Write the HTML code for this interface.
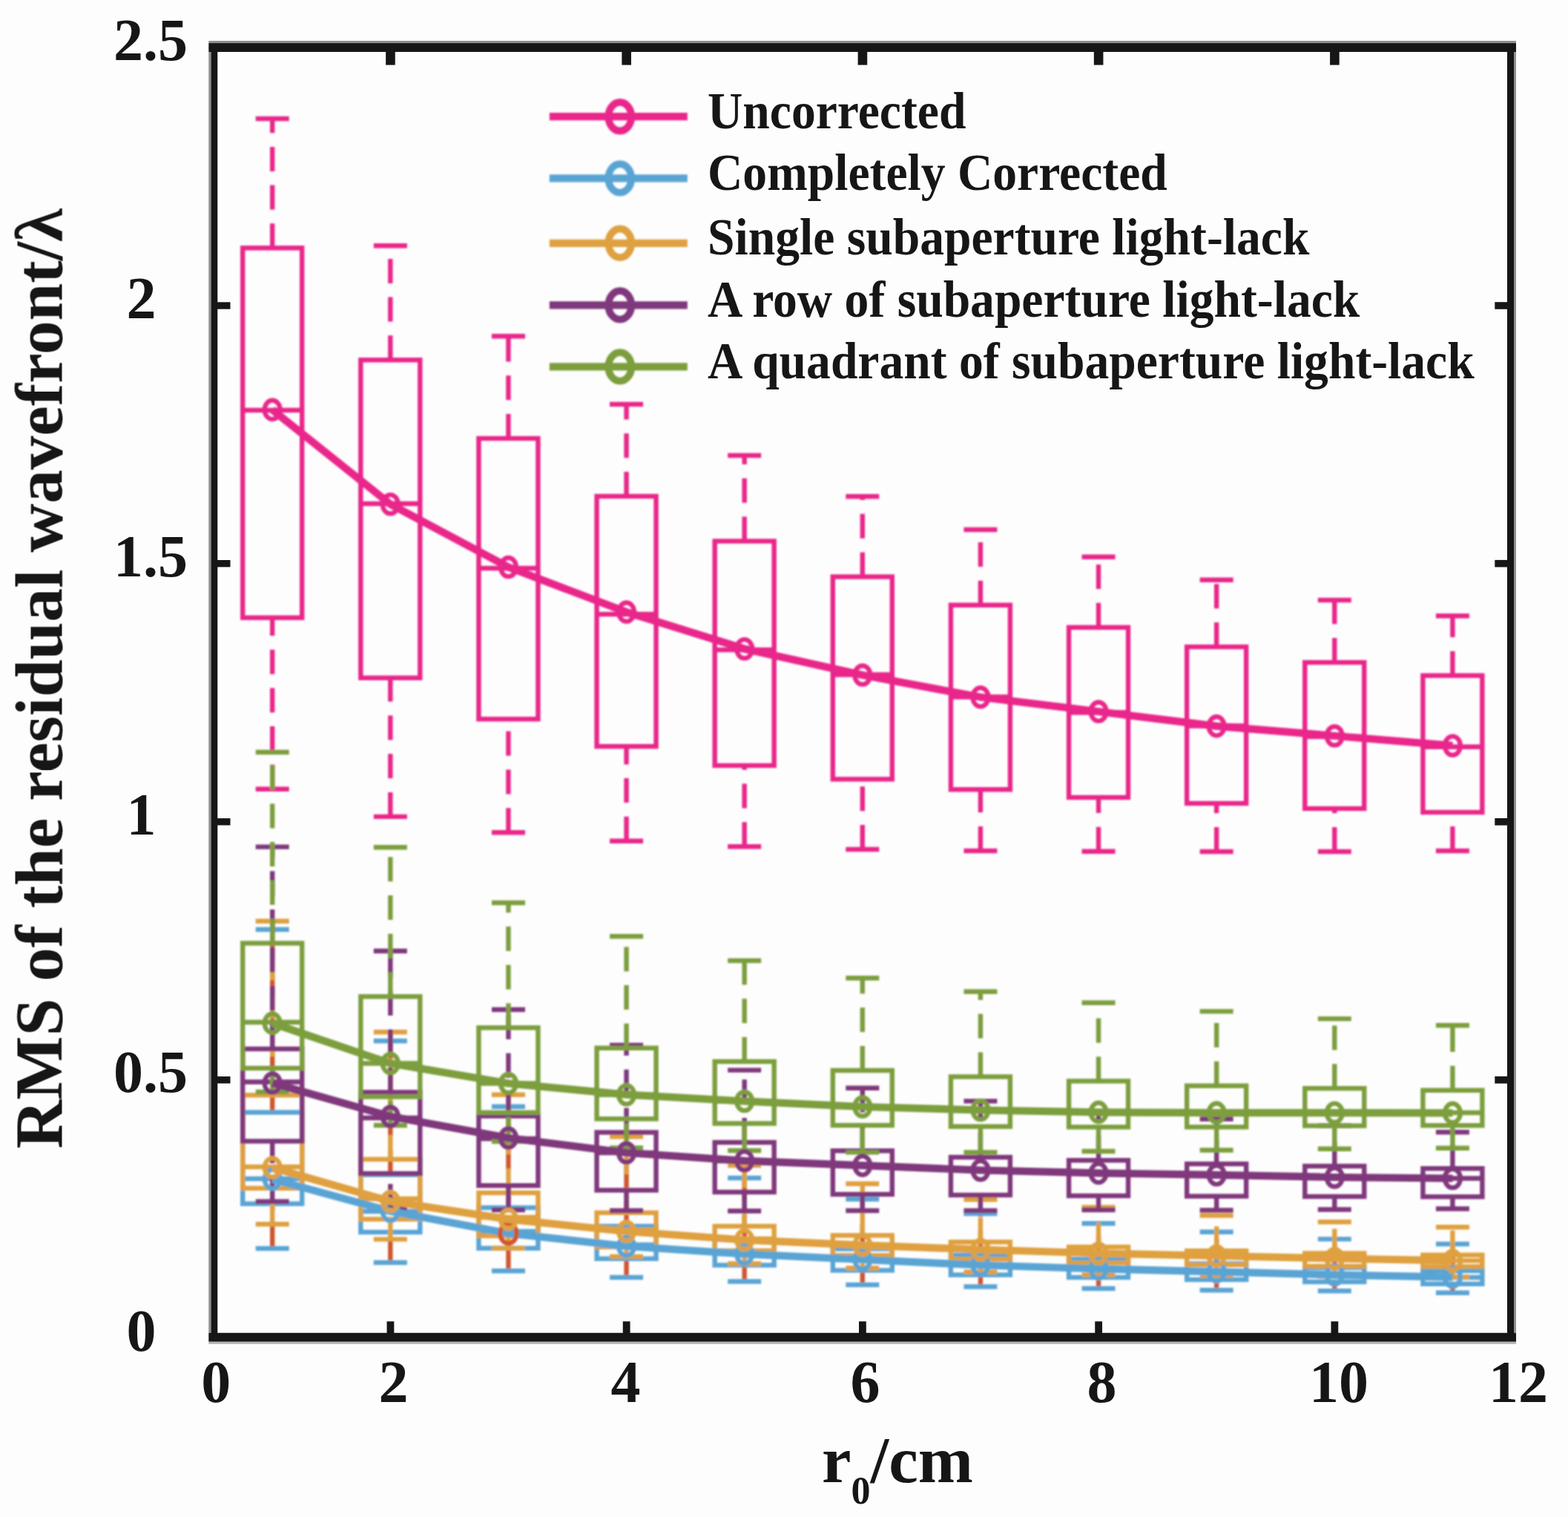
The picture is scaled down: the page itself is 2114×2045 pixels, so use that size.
<!DOCTYPE html>
<html lang="en"><head><meta charset="utf-8"><title>RMS of the residual wavefront vs r0</title>
<style>html,body{margin:0;padding:0;background:#fdfdfd}body{width:2114px;height:2045px;overflow:hidden}svg{display:block}text{font-family:"Liberation Serif","DejaVu Serif",serif;font-weight:bold;fill:#171717}</style></head><body>
<svg width="2114" height="2045" viewBox="0 0 2114 2045">
<rect width="2114" height="2045" fill="#fdfdfd"/>
<defs><filter id="soft" filterUnits="userSpaceOnUse" x="0" y="0" width="2114" height="2045"><feGaussianBlur stdDeviation="1.15"/></filter><filter id="softText" filterUnits="userSpaceOnUse" x="0" y="0" width="2114" height="2045"><feGaussianBlur stdDeviation="0.7"/></filter><filter id="softAxis" filterUnits="userSpaceOnUse" x="0" y="0" width="2114" height="2045"><feGaussianBlur stdDeviation="0.45"/></filter></defs>
<g filter="url(#soft)">
<g fill="none" stroke="#e9258a" stroke-width="6.4">
<g stroke="#e9258a" stroke-dasharray="33 18.7">
<path d="M367.2 334.3V160M367.2 1063.8V832.7"/>
<path d="M526.32 485.3V331.2M526.32 1100.9V913.8"/>
<path d="M685.44 591V453.3M685.44 1122.2V969.4"/>
<path d="M844.56 669V545M844.56 1133.8V1006.2"/>
<path d="M1003.68 729.5V614M1003.68 1141.2V1032"/>
<path d="M1162.8 777.5V669.2M1162.8 1145V1050.4"/>
<path d="M1321.92 815.7V714M1321.92 1147V1064.3"/>
<path d="M1481.04 845.8V750.7M1481.04 1147.8V1075"/>
<path d="M1640.16 872V781.7M1640.16 1148V1083"/>
<path d="M1799.28 893V809M1799.28 1148V1090"/>
<path d="M1958.4 910.7V830.3M1958.4 1147V1095"/>
</g>
<rect x="327.2" y="334.3" width="80" height="498.4"/>
<path d="M327.2 553H407.2M344.7 160H389.7M344.7 1063.8H389.7"/>
<rect x="486.32" y="485.3" width="80" height="428.5"/>
<path d="M486.32 679H566.32M503.82 331.2H548.82M503.82 1100.9H548.82"/>
<rect x="645.44" y="591" width="80" height="378.4"/>
<path d="M645.44 766H725.44M662.94 453.3H707.94M662.94 1122.2H707.94"/>
<rect x="804.56" y="669" width="80" height="337.2"/>
<path d="M804.56 828H884.56M822.06 545H867.06M822.06 1133.8H867.06"/>
<rect x="963.68" y="729.5" width="80" height="302.5"/>
<path d="M963.68 876H1043.68M981.18 614H1026.18M981.18 1141.2H1026.18"/>
<rect x="1122.8" y="777.5" width="80" height="272.9"/>
<path d="M1122.8 909.5H1202.8M1140.3 669.2H1185.3M1140.3 1145H1185.3"/>
<rect x="1281.92" y="815.7" width="80" height="248.6"/>
<path d="M1281.92 939.5H1361.92M1299.42 714H1344.42M1299.42 1147H1344.42"/>
<rect x="1441.04" y="845.8" width="80" height="229.2"/>
<path d="M1441.04 960.5H1521.04M1458.54 750.7H1503.54M1458.54 1147.8H1503.54"/>
<rect x="1600.16" y="872" width="80" height="211"/>
<path d="M1600.16 978.5H1680.16M1617.66 781.7H1662.66M1617.66 1148H1662.66"/>
<rect x="1759.28" y="893" width="80" height="197"/>
<path d="M1759.28 993H1839.28M1776.78 809H1821.78M1776.78 1148H1821.78"/>
<rect x="1918.4" y="910.7" width="80" height="184.3"/>
<path d="M1918.4 1006.8H1998.4M1935.9 830.3H1980.9M1935.9 1147H1980.9"/>
</g>
<g fill="none" stroke="#5aa4d4" stroke-width="6.4">
<g stroke="#d0572e" stroke-dasharray="33 18.7">
<path d="M367.2 1499.5V1253M367.2 1683V1622.7"/>
<path d="M526.32 1583.6V1403.3M526.32 1702V1661"/>
<path d="M685.44 1628V1491.7M685.44 1713.2V1682.7"/>
<path d="M844.56 1653V1548M844.56 1722V1696.8"/>
<path d="M1003.68 1671V1588M1003.68 1727.5V1705.5"/>
<path d="M1162.8 1683.5V1616.5M1162.8 1732V1712.5"/>
<path d="M1321.92 1692V1636M1321.92 1734.5V1718.6"/>
<path d="M1481.04 1697.5V1649.3M1481.04 1737V1722"/>
<path d="M1640.16 1703.5V1660.8M1640.16 1739.2V1725"/>
<path d="M1799.28 1709V1670.4M1799.28 1740.3V1728"/>
<path d="M1958.4 1713V1677M1958.4 1742.8V1730.8"/>
</g>
<rect x="327.2" y="1499.5" width="80" height="123.2"/>
<path d="M327.2 1589H407.2M344.7 1253H389.7M344.7 1683H389.7"/>
<rect x="486.32" y="1583.6" width="80" height="77.4"/>
<path d="M486.32 1633H566.32M503.82 1403.3H548.82M503.82 1702H548.82"/>
<rect x="645.44" y="1628" width="80" height="54.7"/>
<path d="M645.44 1660H725.44M662.94 1491.7H707.94M662.94 1713.2H707.94"/>
<rect x="804.56" y="1653" width="80" height="43.8"/>
<path d="M804.56 1678H884.56M822.06 1548H867.06M822.06 1722H867.06"/>
<rect x="963.68" y="1671" width="80" height="34.5"/>
<path d="M963.68 1690H1043.68M981.18 1588H1026.18M981.18 1727.5H1026.18"/>
<rect x="1122.8" y="1683.5" width="80" height="29"/>
<path d="M1122.8 1698H1202.8M1140.3 1616.5H1185.3M1140.3 1732H1185.3"/>
<rect x="1281.92" y="1692" width="80" height="26.6"/>
<path d="M1281.92 1705H1361.92M1299.42 1636H1344.42M1299.42 1734.5H1344.42"/>
<rect x="1441.04" y="1697.5" width="80" height="24.5"/>
<path d="M1441.04 1710.5H1521.04M1458.54 1649.3H1503.54M1458.54 1737H1503.54"/>
<rect x="1600.16" y="1703.5" width="80" height="21.5"/>
<path d="M1600.16 1714.4H1680.16M1617.66 1660.8H1662.66M1617.66 1739.2H1662.66"/>
<rect x="1759.28" y="1709" width="80" height="19"/>
<path d="M1759.28 1718.6H1839.28M1776.78 1670.4H1821.78M1776.78 1740.3H1821.78"/>
<rect x="1918.4" y="1713" width="80" height="17.8"/>
<path d="M1918.4 1722H1998.4M1935.9 1677H1980.9M1935.9 1742.8H1980.9"/>
</g>
<g fill="none" stroke="#dfa040" stroke-width="6.4">
<g stroke="#dfa040" stroke-dasharray="33 18.7">
<path d="M367.2 1476.3V1241.8M367.2 1650.2V1601.8"/>
<path d="M526.32 1562.8V1391.2M526.32 1670.6V1643.5"/>
<path d="M685.44 1608V1475.8M685.44 1682.6V1666"/>
<path d="M844.56 1634.8V1532.2M844.56 1694V1681"/>
<path d="M1003.68 1653V1571M1003.68 1703.5V1686"/>
<path d="M1162.8 1665.4V1595.8M1162.8 1709.5V1692.4"/>
<path d="M1321.92 1674.3V1617M1321.92 1714.8V1697.5"/>
<path d="M1481.04 1681V1627.5M1481.04 1718.5V1702.5"/>
<path d="M1640.16 1686.2V1638.5M1640.16 1719.6V1705"/>
<path d="M1799.28 1689.5V1647.2M1799.28 1720.6V1707"/>
<path d="M1958.4 1691.8V1654.2M1958.4 1721.5V1707.5"/>
</g>
<rect x="327.2" y="1476.3" width="80" height="125.5"/>
<path d="M327.2 1573H407.2M344.7 1241.8H389.7M344.7 1650.2H389.7"/>
<rect x="486.32" y="1562.8" width="80" height="80.7"/>
<path d="M486.32 1616H566.32M503.82 1391.2H548.82M503.82 1670.6H548.82"/>
<rect x="645.44" y="1608" width="80" height="58"/>
<path d="M645.44 1641H725.44M662.94 1475.8H707.94M662.94 1682.6H707.94"/>
<rect x="804.56" y="1634.8" width="80" height="46.2"/>
<path d="M804.56 1658H884.56M822.06 1532.2H867.06M822.06 1694H867.06"/>
<rect x="963.68" y="1653" width="80" height="33"/>
<path d="M963.68 1670H1043.68M981.18 1571H1026.18M981.18 1703.5H1026.18"/>
<rect x="1122.8" y="1665.4" width="80" height="27"/>
<path d="M1122.8 1678H1202.8M1140.3 1595.8H1185.3M1140.3 1709.5H1185.3"/>
<rect x="1281.92" y="1674.3" width="80" height="23.2"/>
<path d="M1281.92 1684.5H1361.92M1299.42 1617H1344.42M1299.42 1714.8H1344.42"/>
<rect x="1441.04" y="1681" width="80" height="21.5"/>
<path d="M1441.04 1689.5H1521.04M1458.54 1627.5H1503.54M1458.54 1718.5H1503.54"/>
<rect x="1600.16" y="1686.2" width="80" height="18.8"/>
<path d="M1600.16 1693H1680.16M1617.66 1638.5H1662.66M1617.66 1719.6H1662.66"/>
<rect x="1759.28" y="1689.5" width="80" height="17.5"/>
<path d="M1759.28 1696.5H1839.28M1776.78 1647.2H1821.78M1776.78 1720.6H1821.78"/>
<rect x="1918.4" y="1691.8" width="80" height="15.7"/>
<path d="M1918.4 1699.4H1998.4M1935.9 1654.2H1980.9M1935.9 1721.5H1980.9"/>
</g>
<g fill="none" stroke="#7f377c" stroke-width="6.4">
<g stroke="#7f377c" stroke-dasharray="33 18.7">
<path d="M367.2 1414V1141.6M367.2 1619.7V1538.4"/>
<path d="M526.32 1472.4V1282M526.32 1629V1582"/>
<path d="M685.44 1504.5V1361M685.44 1631V1598.2"/>
<path d="M844.56 1526.5V1409M844.56 1632V1604.5"/>
<path d="M1003.68 1540V1442.6M1003.68 1632.5V1607"/>
<path d="M1162.8 1551.3V1466.7M1162.8 1632V1610"/>
<path d="M1321.92 1560V1484.4M1321.92 1632V1611"/>
<path d="M1481.04 1564.2V1498.5M1481.04 1631V1612"/>
<path d="M1640.16 1569V1508.5M1640.16 1631.5V1612.6"/>
<path d="M1799.28 1572V1517.5M1799.28 1630.5V1613"/>
<path d="M1958.4 1575.2V1526.2M1958.4 1629.5V1613.3"/>
</g>
<rect x="327.2" y="1414" width="80" height="124.4"/>
<path d="M327.2 1458.5H407.2M344.7 1141.6H389.7M344.7 1619.7H389.7"/>
<rect x="486.32" y="1472.4" width="80" height="109.6"/>
<path d="M486.32 1507H566.32M503.82 1282H548.82M503.82 1629H548.82"/>
<rect x="645.44" y="1504.5" width="80" height="93.7"/>
<path d="M645.44 1535H725.44M662.94 1361H707.94M662.94 1631H707.94"/>
<rect x="804.56" y="1526.5" width="80" height="78"/>
<path d="M804.56 1554H884.56M822.06 1409H867.06M822.06 1632H867.06"/>
<rect x="963.68" y="1540" width="80" height="67"/>
<path d="M963.68 1565H1043.68M981.18 1442.6H1026.18M981.18 1632.5H1026.18"/>
<rect x="1122.8" y="1551.3" width="80" height="58.7"/>
<path d="M1122.8 1571H1202.8M1140.3 1466.7H1185.3M1140.3 1632H1185.3"/>
<rect x="1281.92" y="1560" width="80" height="51"/>
<path d="M1281.92 1577.5H1361.92M1299.42 1484.4H1344.42M1299.42 1632H1344.42"/>
<rect x="1441.04" y="1564.2" width="80" height="47.8"/>
<path d="M1441.04 1581.4H1521.04M1458.54 1498.5H1503.54M1458.54 1631H1503.54"/>
<rect x="1600.16" y="1569" width="80" height="43.6"/>
<path d="M1600.16 1584H1680.16M1617.66 1508.5H1662.66M1617.66 1631.5H1662.66"/>
<rect x="1759.28" y="1572" width="80" height="41"/>
<path d="M1759.28 1587H1839.28M1776.78 1517.5H1821.78M1776.78 1630.5H1821.78"/>
<rect x="1918.4" y="1575.2" width="80" height="38.1"/>
<path d="M1918.4 1588.5H1998.4M1935.9 1526.2H1980.9M1935.9 1629.5H1980.9"/>
</g>
<g fill="none" stroke="#7b9e3d" stroke-width="6.4">
<g stroke="#7b9e3d" stroke-dasharray="33 18.7">
<path d="M367.2 1271.5V1014M367.2 1472V1440"/>
<path d="M526.32 1343.4V1142.3M526.32 1517V1478.5"/>
<path d="M685.44 1385.4V1217M685.44 1538.8V1499.8"/>
<path d="M844.56 1412.8V1262.3M844.56 1547.4V1508.3"/>
<path d="M1003.68 1431V1295M1003.68 1551V1514.5"/>
<path d="M1162.8 1443V1318.5M1162.8 1553.4V1517"/>
<path d="M1321.92 1451.5V1336.8M1321.92 1553.4V1518.6"/>
<path d="M1481.04 1457.4V1351.8M1481.04 1552V1519.3"/>
<path d="M1640.16 1463.7V1363.4M1640.16 1550.5V1519.3"/>
<path d="M1799.28 1467.2V1373.4M1799.28 1548.7V1517.6"/>
<path d="M1958.4 1469.8V1382.3M1958.4 1547.7V1517.2"/>
</g>
<rect x="327.2" y="1271.5" width="80" height="168.5"/>
<path d="M327.2 1378H407.2M344.7 1014H389.7M344.7 1472H389.7"/>
<rect x="486.32" y="1343.4" width="80" height="135.1"/>
<path d="M486.32 1433.5H566.32M503.82 1142.3H548.82M503.82 1517H548.82"/>
<rect x="645.44" y="1385.4" width="80" height="114.4"/>
<path d="M645.44 1460.5H725.44M662.94 1217H707.94M662.94 1538.8H707.94"/>
<rect x="804.56" y="1412.8" width="80" height="95.5"/>
<path d="M804.56 1475.8H884.56M822.06 1262.3H867.06M822.06 1547.4H867.06"/>
<rect x="963.68" y="1431" width="80" height="83.5"/>
<path d="M963.68 1484.5H1043.68M981.18 1295H1026.18M981.18 1551H1026.18"/>
<rect x="1122.8" y="1443" width="80" height="74"/>
<path d="M1122.8 1492H1202.8M1140.3 1318.5H1185.3M1140.3 1553.4H1185.3"/>
<rect x="1281.92" y="1451.5" width="80" height="67.1"/>
<path d="M1281.92 1496.5H1361.92M1299.42 1336.8H1344.42M1299.42 1553.4H1344.42"/>
<rect x="1441.04" y="1457.4" width="80" height="61.9"/>
<path d="M1441.04 1499.4H1521.04M1458.54 1351.8H1503.54M1458.54 1552H1503.54"/>
<rect x="1600.16" y="1463.7" width="80" height="55.6"/>
<path d="M1600.16 1500.1H1680.16M1617.66 1363.4H1662.66M1617.66 1550.5H1662.66"/>
<rect x="1759.28" y="1467.2" width="80" height="50.4"/>
<path d="M1759.28 1500.2H1839.28M1776.78 1373.4H1821.78M1776.78 1548.7H1821.78"/>
<rect x="1918.4" y="1469.8" width="80" height="47.4"/>
<path d="M1918.4 1500H1998.4M1935.9 1382.3H1980.9M1935.9 1547.7H1980.9"/>
</g>
<g fill="none" stroke="#e9258a">
<polyline points="367.2,552.4 526.32,679.7 685.44,764.5 844.56,825.1 1003.68,874.7 1162.8,910 1321.92,939.8 1481.04,959.3 1640.16,978.9 1799.28,992 1958.4,1005.2" stroke-width="10.2" stroke-linejoin="round"/>
<ellipse cx="367.2" cy="552.4" rx="10.5" ry="12.7" stroke-width="6.2"/>
<ellipse cx="526.32" cy="679.7" rx="10.5" ry="12.7" stroke-width="6.2"/>
<ellipse cx="685.44" cy="764.5" rx="10.5" ry="12.7" stroke-width="6.2"/>
<ellipse cx="844.56" cy="825.1" rx="10.5" ry="12.7" stroke-width="6.2"/>
<ellipse cx="1003.68" cy="874.7" rx="10.5" ry="12.7" stroke-width="6.2"/>
<ellipse cx="1162.8" cy="910" rx="10.5" ry="12.7" stroke-width="6.2"/>
<ellipse cx="1321.92" cy="939.8" rx="10.5" ry="12.7" stroke-width="6.2"/>
<ellipse cx="1481.04" cy="959.3" rx="10.5" ry="12.7" stroke-width="6.2"/>
<ellipse cx="1640.16" cy="978.9" rx="10.5" ry="12.7" stroke-width="6.2"/>
<ellipse cx="1799.28" cy="992" rx="10.5" ry="12.7" stroke-width="6.2"/>
<ellipse cx="1958.4" cy="1005.2" rx="10.5" ry="12.7" stroke-width="6.2"/>
</g>
<g fill="none" stroke="#5aa4d4">
<polyline points="367.2,1589.6 526.32,1632.8 685.44,1662.8 844.56,1680 1003.68,1690.5 1162.8,1698 1321.92,1705.5 1481.04,1710.5 1640.16,1714.4 1799.28,1718.6 1958.4,1721.6" stroke-width="10.2" stroke-linejoin="round"/>
<ellipse cx="367.2" cy="1589.6" rx="10.5" ry="12.7" stroke-width="6.2"/>
<ellipse cx="526.32" cy="1632.8" rx="10.5" ry="12.7" stroke-width="6.2"/>
<ellipse cx="685.44" cy="1662.8" rx="11.1" ry="13.3" stroke="#d0572e" stroke-width="6.2"/>
<ellipse cx="844.56" cy="1680" rx="10.5" ry="12.7" stroke-width="6.2"/>
<ellipse cx="1003.68" cy="1690.5" rx="10.5" ry="12.7" stroke-width="6.2"/>
<ellipse cx="1162.8" cy="1698" rx="10.5" ry="12.7" stroke-width="6.2"/>
<ellipse cx="1321.92" cy="1705.5" rx="10.5" ry="12.7" stroke-width="6.2"/>
<ellipse cx="1481.04" cy="1710.5" rx="10.5" ry="12.7" stroke-width="6.2"/>
<ellipse cx="1640.16" cy="1714.4" rx="10.5" ry="12.7" stroke-width="6.2"/>
<ellipse cx="1799.28" cy="1718.6" rx="10.5" ry="12.7" stroke-width="6.2"/>
<ellipse cx="1958.4" cy="1721.6" rx="10.5" ry="12.7" stroke-width="6.2"/>
</g>
<g fill="none" stroke="#dfa040">
<polyline points="367.2,1574 526.32,1619.5 685.44,1643.6 844.56,1660 1003.68,1671.5 1162.8,1678.6 1321.92,1684.5 1481.04,1689.5 1640.16,1693 1799.28,1696.5 1958.4,1699.4" stroke-width="10.2" stroke-linejoin="round"/>
<ellipse cx="367.2" cy="1574" rx="10.5" ry="12.7" stroke-width="6.2"/>
<ellipse cx="526.32" cy="1619.5" rx="10.5" ry="12.7" stroke-width="6.2"/>
<ellipse cx="685.44" cy="1643.6" rx="10.5" ry="12.7" stroke-width="6.2"/>
<ellipse cx="844.56" cy="1660" rx="10.5" ry="12.7" stroke-width="6.2"/>
<ellipse cx="1003.68" cy="1671.5" rx="10.5" ry="12.7" stroke-width="6.2"/>
<ellipse cx="1162.8" cy="1678.6" rx="10.5" ry="12.7" stroke-width="6.2"/>
<ellipse cx="1321.92" cy="1684.5" rx="10.5" ry="12.7" stroke-width="6.2"/>
<ellipse cx="1481.04" cy="1689.5" rx="10.5" ry="12.7" stroke-width="6.2"/>
<ellipse cx="1640.16" cy="1693" rx="10.5" ry="12.7" stroke-width="6.2"/>
<ellipse cx="1799.28" cy="1696.5" rx="10.5" ry="12.7" stroke-width="6.2"/>
<ellipse cx="1958.4" cy="1699.4" rx="10.5" ry="12.7" stroke-width="6.2"/>
</g>
<g fill="none" stroke="#7f377c">
<polyline points="367.2,1460 526.32,1505 685.44,1534 844.56,1554 1003.68,1564.8 1162.8,1571.1 1321.92,1577.5 1481.04,1581.4 1640.16,1583.8 1799.28,1587 1958.4,1588.5" stroke-width="10.2" stroke-linejoin="round"/>
<ellipse cx="367.2" cy="1460" rx="10.5" ry="12.7" stroke-width="6.2"/>
<ellipse cx="526.32" cy="1505" rx="10.5" ry="12.7" stroke-width="6.2"/>
<ellipse cx="685.44" cy="1534" rx="10.5" ry="12.7" stroke-width="6.2"/>
<ellipse cx="844.56" cy="1554" rx="10.5" ry="12.7" stroke-width="6.2"/>
<ellipse cx="1003.68" cy="1564.8" rx="10.5" ry="12.7" stroke-width="6.2"/>
<ellipse cx="1162.8" cy="1571.1" rx="10.5" ry="12.7" stroke-width="6.2"/>
<ellipse cx="1321.92" cy="1577.5" rx="10.5" ry="12.7" stroke-width="6.2"/>
<ellipse cx="1481.04" cy="1581.4" rx="10.5" ry="12.7" stroke-width="6.2"/>
<ellipse cx="1640.16" cy="1583.8" rx="10.5" ry="12.7" stroke-width="6.2"/>
<ellipse cx="1799.28" cy="1587" rx="10.5" ry="12.7" stroke-width="6.2"/>
<ellipse cx="1958.4" cy="1588.5" rx="10.5" ry="12.7" stroke-width="6.2"/>
</g>
<g fill="none" stroke="#7b9e3d">
<polyline points="367.2,1379.4 526.32,1433.5 685.44,1460.5 844.56,1475.7 1003.68,1484.5 1162.8,1492 1321.92,1496.5 1481.04,1499.4 1640.16,1500.1 1799.28,1500.2 1958.4,1500.4" stroke-width="10.2" stroke-linejoin="round"/>
<ellipse cx="367.2" cy="1379.4" rx="10.5" ry="12.7" stroke-width="6.2"/>
<ellipse cx="526.32" cy="1433.5" rx="10.5" ry="12.7" stroke-width="6.2"/>
<ellipse cx="685.44" cy="1460.5" rx="10.5" ry="12.7" stroke-width="6.2"/>
<ellipse cx="844.56" cy="1475.7" rx="10.5" ry="12.7" stroke-width="6.2"/>
<ellipse cx="1003.68" cy="1484.5" rx="10.5" ry="12.7" stroke-width="6.2"/>
<ellipse cx="1162.8" cy="1492" rx="10.5" ry="12.7" stroke-width="6.2"/>
<ellipse cx="1321.92" cy="1496.5" rx="10.5" ry="12.7" stroke-width="6.2"/>
<ellipse cx="1481.04" cy="1499.4" rx="10.5" ry="12.7" stroke-width="6.2"/>
<ellipse cx="1640.16" cy="1500.1" rx="10.5" ry="12.7" stroke-width="6.2"/>
<ellipse cx="1799.28" cy="1500.2" rx="10.5" ry="12.7" stroke-width="6.2"/>
<ellipse cx="1958.4" cy="1500.4" rx="10.5" ry="12.7" stroke-width="6.2"/>
</g>
</g>
<g fill="#171717" filter="url(#softAxis)">
<rect x="281.3" y="55" width="1762.7" height="3.1" fill="#909090"/>
<rect x="281.3" y="1808.6" width="1762.7" height="3.2" fill="#b4b4b4"/>
<rect x="281.3" y="70" width="3.2" height="1726.8" fill="#909090"/>
<rect x="2041" y="70" width="3" height="1726.8" fill="#909090"/>
<rect x="281.3" y="58.1" width="1762.7" height="11.9"/>
<rect x="281.3" y="1796.8" width="1762.7" height="11.8"/>
<rect x="284.5" y="69" width="8.8" height="1728.8"/>
<rect x="2032" y="69" width="9" height="1728.8"/>
<rect x="520.12" y="69" width="12.6" height="18.6"/>
<rect x="521.52" y="1781.3" width="9.8" height="16.5"/>
<rect x="838.36" y="69" width="12.6" height="18.6"/>
<rect x="839.76" y="1781.3" width="9.8" height="16.5"/>
<rect x="1156.6" y="69" width="12.6" height="18.6"/>
<rect x="1158" y="1781.3" width="9.8" height="16.5"/>
<rect x="1474.84" y="69" width="12.6" height="18.6"/>
<rect x="1476.24" y="1781.3" width="9.8" height="16.5"/>
<rect x="1793.08" y="69" width="12.6" height="18.6"/>
<rect x="1794.48" y="1781.3" width="9.8" height="16.5"/>
<rect x="292.3" y="407.3" width="18.2" height="9.4"/>
<rect x="2015.3" y="407.2" width="17.7" height="9.6"/>
<rect x="292.3" y="755" width="18.2" height="9.4"/>
<rect x="2015.3" y="754.9" width="17.7" height="9.6"/>
<rect x="292.3" y="1103.1" width="18.2" height="9.4"/>
<rect x="2015.3" y="1103" width="17.7" height="9.6"/>
<rect x="292.3" y="1451.1" width="18.2" height="9.4"/>
<rect x="2015.3" y="1451" width="17.7" height="9.6"/>
</g>
<g filter="url(#softText)">
<g font-size="80">
<text x="153" y="81">2.5</text>
<text x="170.5" y="428.6">2</text>
<text x="153" y="776.6">1.5</text>
<text x="170.5" y="1124.6">1</text>
<text x="153" y="1472.4">0.5</text>
<text x="170.5" y="1820.6">0</text>
<text x="291.3" y="1890.3" text-anchor="middle">0</text>
<text x="530.5" y="1890.3" text-anchor="middle">2</text>
<text x="843.5" y="1890.3" text-anchor="middle">4</text>
<text x="1166.5" y="1890.3" text-anchor="middle">6</text>
<text x="1485.5" y="1890.3" text-anchor="middle">8</text>
<text x="1805" y="1890.3" text-anchor="middle">10</text>
<text x="2047" y="1890.3" text-anchor="middle">12</text>
</g>
<text x="1108" y="1997.5" font-size="89">r<tspan font-size="52" dy="29">0</tspan><tspan dy="-29">/cm</tspan></text>
<text transform="translate(83.5 1548.5) rotate(-90)" font-size="91.2">RMS of the residual wavefront/λ</text>
<g font-size="65.6">
<text transform="translate(954 172.8) scale(1 1.06)">Uncorrected</text>
<text transform="translate(954 256) scale(1 1.06)">Completely Corrected</text>
<text transform="translate(954 343.4) scale(1 1.06)">Single subaperture light-lack</text>
<text transform="translate(954 427) scale(1 1.06)">A row of subaperture light-lack</text>
<text transform="translate(954 510) scale(1 1.06)">A quadrant of subaperture light-lack</text>
</g>
</g>
<g filter="url(#soft)" fill="none">
<path d="M740.8 157.2H926.8" stroke="#e9258a" stroke-width="10.2"/>
<ellipse cx="835.8" cy="157.2" rx="15.5" ry="19.3" stroke="#e9258a" stroke-width="9.8"/>
<path d="M740.8 240.4H926.8" stroke="#5aa4d4" stroke-width="10.2"/>
<ellipse cx="835.8" cy="240.4" rx="15.5" ry="19.3" stroke="#5aa4d4" stroke-width="9.8"/>
<path d="M740.8 327.8H926.8" stroke="#dfa040" stroke-width="10.2"/>
<ellipse cx="835.8" cy="327.8" rx="15.5" ry="19.3" stroke="#dfa040" stroke-width="9.8"/>
<path d="M740.8 411.4H926.8" stroke="#7f377c" stroke-width="10.2"/>
<ellipse cx="835.8" cy="411.4" rx="15.5" ry="19.3" stroke="#7f377c" stroke-width="9.8"/>
<path d="M740.8 494.4H926.8" stroke="#7b9e3d" stroke-width="10.2"/>
<ellipse cx="835.8" cy="494.4" rx="15.5" ry="19.3" stroke="#7b9e3d" stroke-width="9.8"/>
</g>
</svg></body></html>
